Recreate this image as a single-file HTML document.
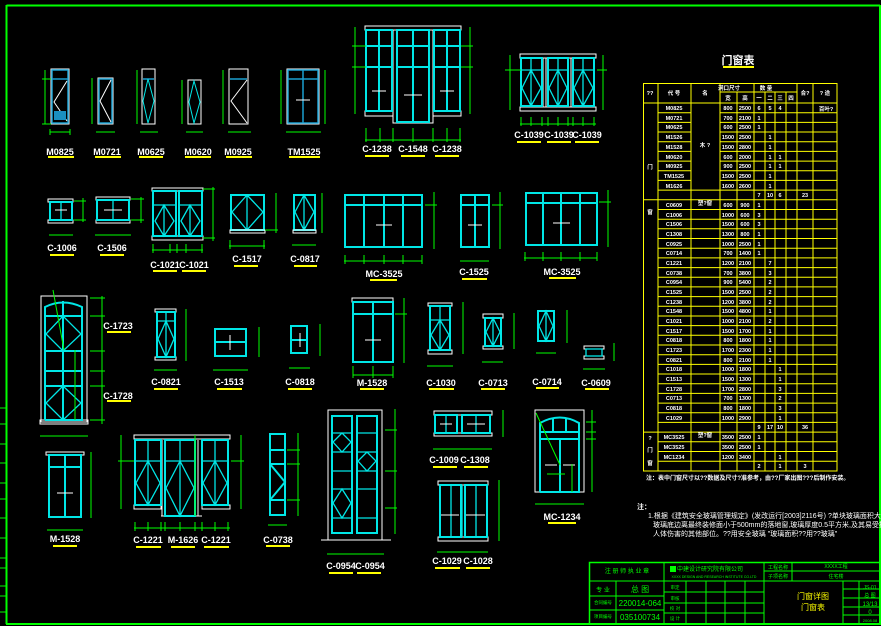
<!DOCTYPE html>
<html><head><meta charset="utf-8"><style>
html,body{margin:0;padding:0;background:#000;}
svg{display:block;font-family:"Liberation Sans","Noto Sans CJK SC",sans-serif;}
.c{fill:none;stroke:#00e6e6;stroke-width:2}
.c1{fill:none;stroke:#00e6e6;stroke-width:1.3}
.w{fill:none;stroke:#fff;stroke-width:1}
.g{fill:none;stroke:#00ff00;stroke-width:1}
.y{stroke:#ffff00;stroke-width:2}
.lb{fill:#fff;font-size:9px;font-weight:bold;text-anchor:middle}
.t{fill:#fff;font-size:5.5px;font-weight:bold;text-anchor:middle}
.tb{fill:#00ff00;font-size:6px;text-anchor:middle}
.yl{fill:none;stroke:#ffff00;stroke-width:1}
</style></head><body>
<svg width="881" height="626" viewBox="0 0 881 626" xmlns="http://www.w3.org/2000/svg">
<rect width="881" height="626" fill="#000"/>
<!-- border -->
<path d="M6.5 5.5H880M6.5 5V624M6 624H881M880 5V624" stroke="#00ff00" stroke-width="2" fill="none"/>
<path class="g" d="M0 408H6M0 424H6M0 444H6M0 463H6M0 483H6M0 499H6M0 518H6M0 538H6M0 558H6M0 568H6M0 586H6M0 596H6M0 612H6"/>

<!-- ROW 1 doors -->
<g>
<rect x="51" y="69" width="18" height="55" class="w"/><rect x="52" y="70" width="16" height="53" fill="none" stroke="#1a9fd0" stroke-width="1.5"/><path d="M52 79H68" stroke="#1a9fd0" stroke-width="1.5"/><path d="M67 81L54 102L67 121" class="w"/><rect x="54" y="111" width="12" height="9" fill="#1a8fbf"/>
<path class="g" d="M45 70V124M42 79H51M42 124H51M50 132H70M50 129V135M70 129V135"/>
<text class="lb" x="60" y="155">M0825</text><path class="y" d="M48 157H74"/>

<rect x="98" y="78" width="15" height="46" class="w"/><rect x="99" y="79" width="13" height="44" fill="none" stroke="#1a9fd0" stroke-width="1.5"/><path d="M111 80L100 101L111 122" class="w"/>
<path class="g" d="M92 78V124M96 132H115"/>
<text class="lb" x="107" y="155">M0721</text><path class="y" d="M95 157H121"/>

<rect x="142" y="69" width="13" height="55" class="w"/><path d="M143 79H154" stroke="#1a9fd0" stroke-width="1.5"/><path d="M148 79L143 101L148 123L154 101Z" stroke="#00e6e6" fill="none"/>
<path class="g" d="M137 70V124M140 132H158"/>
<text class="lb" x="151" y="155">M0625</text><path class="y" d="M139 157H163"/>

<rect x="188" y="80" width="13" height="44" class="w"/><path d="M194 81L189 102L194 123L200 102Z" stroke="#00e6e6" fill="none"/>
<path class="g" d="M182 80V124M186 132H203"/>
<text class="lb" x="198" y="155">M0620</text><path class="y" d="M185 157H211"/>

<rect x="229" y="69" width="19" height="55" class="w"/><path d="M230 79H247" stroke="#1a9fd0" stroke-width="1.5"/><path d="M247 80L231 101L247 123" class="w"/>
<path class="g" d="M223 70V124M228 132H251"/>
<text class="lb" x="238" y="155">M0925</text><path class="y" d="M226 157H252"/>

<rect x="287" y="69" width="32" height="55" class="w"/><rect x="288" y="70" width="30" height="53" fill="none" stroke="#1a9fd0" stroke-width="1.5"/><path d="M288 79H318M303 70V123" stroke="#1a9fd0" stroke-width="1.5"/><path d="M296 100H310" class="w"/>
<path class="g" d="M281 70V124M325 70V124M286 132H321"/>
<text class="lb" x="304" y="155">TM1525</text><path class="y" d="M289 157H320"/>
</g>

<!-- C-1238 group -->
<g>
<rect x="365" y="26" width="96" height="4" class="w"/><rect x="393" y="30" width="40" height="93" class="w"/><rect x="365" y="111" width="28" height="5" class="w"/><rect x="433" y="111" width="28" height="5" class="w"/>
<rect x="366" y="30" width="26" height="81" class="c"/><path class="c" d="M379 30V111M366 46H392M366 67H392"/>
<rect x="397" y="30" width="32" height="92" class="c"/><path class="c" d="M413 30V122M397 46H429M397 67H429"/>
<rect x="434" y="30" width="26" height="81" class="c"/><path class="c" d="M447 30V111M434 46H460M434 67H460"/>
<path class="w" d="M372 91H386M404 95H422M440 91H454"/>
<path class="g" d="M355 27V114M352 46H366M352 67H366M470 27V114M461 46H473M461 67H473M365 140H461M366 128V142M380 128V142M393 128V142M413 128V142M433 128V142M447 128V142M460 128V142"/>
<text class="lb" x="377" y="152">C-1238</text><text class="lb" x="413" y="152">C-1548</text><text class="lb" x="447" y="152">C-1238</text>
<path class="y" d="M365 156H389M401 156H425M435 156H459"/>
</g>

<!-- C-1039 -->
<g>
<rect x="520" y="54" width="76" height="4" class="w"/><rect x="520" y="107" width="76" height="4" class="w"/>
<path class="w" d="M543 58V107M546 58V107M568 58V107M571 58V107"/>
<rect x="521" y="58" width="21" height="48" class="c"/><rect x="548" y="58" width="20" height="48" class="c"/><rect x="573" y="58" width="21" height="48" class="c"/>
<path class="c1" d="M521 70H542M548 70H568M573 70H594M531 58V106M558 58V106M583 58V106M531 70L522 88L531 106L541 88ZM558 70L549 88L558 106L567 88ZM583 70L574 88L583 106L593 88Z"/>
<path class="g" d="M510 55V110M505 70H521M603 55V110M597 70H607M520 124H596M521 117V126M531 117V126M542 117V126M548 117V126M558 117V126M568 117V126M573 117V126M583 117V126M594 117V126"/>
<text class="lb" x="529" y="138">C-1039</text><text class="lb" x="559" y="138">C-1039</text><text class="lb" x="587" y="138">C-1039</text>
<path class="y" d="M517 142H541M547 142H571M575 142H599"/>
</g>

<!-- ROW 2 -->
<g>
<rect x="48" y="199" width="25" height="3" class="w"/><rect x="48" y="220" width="25" height="3" class="w"/><rect x="50" y="202" width="22" height="18" class="c"/><path class="c1" d="M61 202V220"/><path class="w" d="M55 210H67"/>
<path class="g" d="M83 198V222M74 201H86M74 220H86M49 235H73"/>
<text class="lb" x="62" y="251">C-1006</text><path class="y" d="M50 255H74"/>

<rect x="96" y="197" width="34" height="3" class="w"/><rect x="96" y="220" width="34" height="3" class="w"/><rect x="97" y="200" width="32" height="20" class="c"/><path class="c1" d="M113 200V220"/><path class="w" d="M104 210H122"/>
<path class="g" d="M141 197V223M131 199H144M131 220H144M95 235H131"/>
<text class="lb" x="112" y="251">C-1506</text><path class="y" d="M100 255H124"/>

<rect x="152" y="188" width="51" height="3" class="w"/><rect x="152" y="236" width="51" height="4" class="w"/>
<rect x="153" y="191" width="23" height="45" class="c"/><rect x="179" y="191" width="23" height="45" class="c"/>
<path class="c1" d="M153 205H176M179 205H202M164 205V236M190 205V236M164 205L155 221L164 236L174 221ZM190 205L181 221L190 236L200 221Z"/>
<path class="g" d="M213 187V241M203 189H215M203 238H215M152 250H203M153 244V253M170 244V253M177 244V253M186 244V253M202 244V253"/>
<text class="lb" x="165" y="268">C-1021</text><text class="lb" x="194" y="268">C-1021</text>
<path class="y" d="M153 271H177M182 271H206"/>

<rect x="231" y="195" width="33" height="35" class="c"/><path class="c1" d="M247 195V230M247 195L232 212L247 230L263 212Z"/><rect x="230" y="230" width="35" height="3" class="w"/>
<path class="g" d="M276 193V233M265 230H278M229 246H265M230 240V249M264 240V249"/>
<text class="lb" x="247" y="262">C-1517</text><path class="y" d="M234 266H258"/>

<rect x="294" y="195" width="21" height="35" class="c"/><path class="c1" d="M304 195V230M304 195L295 212L304 230L314 212Z"/><rect x="293" y="230" width="23" height="3" class="w"/>
<path class="g" d="M322 193V233M292 245H316"/>
<text class="lb" x="305" y="262">C-0817</text><path class="y" d="M294 266H317"/>

<rect x="345" y="195" width="77" height="52" class="c"/><path class="c" d="M345 205H422M364 195V247M384 195V247M403 195V247"/><path class="w" d="M376 225H392"/>
<path class="g" d="M434 192V249M425 205H437M344 261H422M345 255V264M364 255V264M384 255V264M403 255V264M422 255V264"/>
<text class="lb" x="384" y="277">MC-3525</text><path class="y" d="M370 280H397"/>

<rect x="461" y="195" width="28" height="52" class="c"/><path class="c" d="M461 205H489M475 195V247"/><path class="w" d="M468 225H482"/>
<path class="g" d="M500 192V249M492 205H503M460 261H489"/>
<text class="lb" x="474" y="275">C-1525</text><path class="y" d="M462 279H487"/>

<rect x="526" y="193" width="71" height="52" class="c"/><path class="c" d="M526 203H597M543 193V245M561 193V245M580 193V245"/><path class="w" d="M553 223H570"/>
<path class="g" d="M608 190V247M599 202H611M524 258H597M525 252V261M543 252V261M561 252V261M580 252V261M597 252V261"/>
<text class="lb" x="562" y="275">MC-3525</text><path class="y" d="M549 278H576"/>
</g>

<!-- ROW 3 -->
<g>
<rect x="41" y="296" width="46" height="126" class="w"/><rect x="40" y="420" width="48" height="4" class="w"/>
<path class="c" d="M45 420V307Q63 298 82 307V420H45M45 316H82M45 351H82M45 371H82M45 386H82M63 301V420"/>
<path class="c1" d="M63 316L46 334L63 351L81 334ZM63 386L46 403L63 420L81 403Z"/>
<path class="g" d="M102 296V424M90 298H105M90 316H105M90 351H105M90 371H105M90 386H105M90 420H105M40 436H88M53 290L64 350M75 350V420"/>
<text class="lb" x="118" y="329">C-1723</text><path class="y" d="M107 332H131"/>
<text class="lb" x="118" y="399">C-1728</text><path class="y" d="M107 401H131"/>

<rect x="155" y="309" width="21" height="3" class="w"/><rect x="155" y="357" width="21" height="3" class="w"/><rect x="157" y="312" width="18" height="45" class="c"/><path class="c1" d="M166 312V357M157 321H175M166 321L158 339L166 357L174 339Z"/>
<path class="g" d="M186 309V361M154 370H177"/>
<text class="lb" x="166" y="385">C-0821</text><path class="y" d="M154 389H178"/>

<rect x="215" y="329" width="31" height="27" class="c"/><path class="c" d="M215 342H246"/><path class="w" d="M230 335V350"/>
<path class="g" d="M259 327V357M213 370H248"/>
<text class="lb" x="229" y="385">C-1513</text><path class="y" d="M217 389H242"/>

<rect x="291" y="326" width="16" height="27" class="c"/><path class="c" d="M291 340H307"/><path class="w" d="M300 333V347"/>
<path class="g" d="M320 324V356M289 368H310"/>
<text class="lb" x="300" y="385">C-0818</text><path class="y" d="M288 389H312"/>

<rect x="46" y="452" width="38" height="3" class="w"/><rect x="49" y="455" width="32" height="62" class="c"/><path class="c" d="M49 467H81M65 455V517"/><path class="w" d="M57 493H73"/>
<path class="g" d="M91 452V518M47 530H83"/>
<text class="lb" x="65" y="542">M-1528</text><path class="y" d="M53 546H77"/>

<rect x="134" y="435" width="96" height="4" class="w"/><rect x="134" y="505" width="27" height="4" class="w"/><rect x="202" y="505" width="28" height="4" class="w"/><path class="w" d="M162 440V516M198 440V516M161 516H202"/>
<rect x="135" y="440" width="26" height="65" class="c"/><rect x="165" y="440" width="30" height="76" class="c"/><rect x="202" y="440" width="26" height="65" class="c"/>
<path class="c1" d="M135 461H161M165 461H195M202 461H228M148 440V505M180 440V516M215 440V505M148 461L136 483L148 505L160 483ZM180 461L166 488L180 516L194 488ZM215 461L203 483L215 505L227 483Z"/>
<path class="g" d="M121 435V509M118 461H134M241 435V509M231 461H244M134 528H230M135 522V531M148 522V531M161 522V531M165 522V531M180 522V531M195 522V531M202 522V531M215 522V531M228 522V531M195 435V516"/>
<text class="lb" x="148" y="543">C-1221</text><text class="lb" x="183" y="543">M-1626</text><text class="lb" x="216" y="543">C-1221</text>
<path class="y" d="M136 547H161M171 547H195M204 547H229"/>

<rect x="270" y="434" width="15" height="81" class="c"/><path class="c" d="M270 450H285M270 464H285M270 500H285M270 464L285 482L270 500"/>
<path class="g" d="M298 433V516M287 450H300M287 464H300M287 500H300M268 525H287"/>
<text class="lb" x="278" y="543">C-0738</text><path class="y" d="M266 546H290"/>
</g>

<!-- zoom6 area -->
<g>
<rect x="352" y="298" width="41" height="4" class="w"/><rect x="353" y="302" width="40" height="60" class="c"/><path class="c" d="M353 314H393M373 302V362"/><path class="w" d="M365 340H381"/>
<path class="g" d="M404 298V363M395 314H407M353 375H393M353 366V378M373 366V378M393 366V378"/>
<text class="lb" x="372" y="386">M-1528</text><path class="y" d="M360 389H384"/>

<rect x="428" y="303" width="24" height="3" class="w"/><rect x="428" y="350" width="24" height="4" class="w"/><rect x="430" y="306" width="20" height="44" class="c"/><path class="c1" d="M440 306V350M430 320H450M440 320L431 335L440 350L449 335Z"/>
<path class="g" d="M463 302V354M427 366H453"/>
<text class="lb" x="441" y="386">C-1030</text><path class="y" d="M429 389H454"/>

<rect x="483" y="314" width="20" height="4" class="w"/><rect x="483" y="346" width="20" height="3" class="w"/><rect x="485" y="318" width="16" height="28" class="c"/><path class="c1" d="M493 318V346M493 318L486 332L493 346L500 332Z"/>
<path class="g" d="M514 313V349M482 362H503"/>
<text class="lb" x="493" y="386">C-0713</text><path class="y" d="M481 389H505"/>

<rect x="538" y="311" width="16" height="30" class="c"/><path class="c1" d="M546 311V341M546 311L539 326L546 341L553 326Z"/>
<path class="g" d="M567 310V343M536 353H556"/>
<text class="lb" x="547" y="385">C-0714</text><path class="y" d="M536 388H559"/>

<rect x="584" y="346" width="20" height="3" class="w"/><rect x="584" y="356" width="20" height="3" class="w"/><rect x="586" y="349" width="16" height="7" class="c1"/>
<path class="g" d="M614 343V361M583 369H605"/>
<text class="lb" x="596" y="386">C-0609</text><path class="y" d="M585 389H609"/>

<rect x="328" y="410" width="54" height="130" class="w"/><path class="w" d="M321 540H391"/>
<rect x="332" y="416" width="20" height="117" class="c"/><rect x="357" y="416" width="20" height="117" class="c"/>
<path class="c1" d="M332 433H352M332 452H352M332 471H352M332 489H352M332 518H352M357 433H377M357 452H377M357 471H377M357 489H377M357 518H377M342 433L333 442L342 452L351 442ZM367 452L358 461L367 471L376 461ZM342 489L333 503L342 518L351 503Z"/>
<path class="g" d="M395 409V534M385 430H397M385 471H397M385 508H397M327 554H384"/>
<text class="lb" x="341" y="569">C-0954</text><text class="lb" x="370" y="569">C-0954</text>
<path class="y" d="M329 573H353M357 573H381"/>

<rect x="434" y="411" width="58" height="4" class="w"/><rect x="434" y="433" width="58" height="3" class="w"/><rect x="435" y="415" width="22" height="18" class="c"/><rect x="462" y="415" width="28" height="18" class="c"/><path class="c1" d="M446 415V433M476 415V433"/><path class="w" d="M440 424H452M467 424H485"/>
<path class="g" d="M503 410V437M433 449H492"/>
<text class="lb" x="444" y="463">C-1009</text><text class="lb" x="475" y="463">C-1308</text>
<path class="y" d="M433 467H457M464 467H488"/>

<rect x="438" y="481" width="50" height="4" class="w"/><rect x="438" y="537" width="50" height="4" class="w"/><rect x="440" y="485" width="21" height="52" class="c"/><rect x="465" y="485" width="22" height="52" class="c"/><path class="c1" d="M451 485V537M476 485V537M462 485V537"/><path class="w" d="M441 515H459M466 515H485"/>
<path class="g" d="M499 480V541M437 552H488"/>
<text class="lb" x="447" y="564">C-1029</text><text class="lb" x="478" y="564">C-1028</text>
<path class="y" d="M435 568H460M466 568H490"/>

<rect x="535" y="410" width="49" height="82" class="w"/>
<path class="c" d="M540 492V423Q560 412 579 423V492H540M540 432H579M540 439H579M553 418V432M566 418V432M560 439V492"/>
<path class="w" d="M545 465H557M563 465H575"/>
<path class="g" d="M592 410V492M586 422H596M586 432H596M586 439H596M535 504H584M536 413L560 465M547 474H565M572 464V492"/>
<text class="lb" x="562" y="520">MC-1234</text><path class="y" d="M548 523H576"/>
</g>

<!-- TABLE -->
<text x="738" y="64" fill="#fff" font-size="11" font-weight="bold" text-anchor="middle">门窗表</text>
<path class="y" d="M723 67H754"/>
<g stroke="#ffff00" stroke-width="1" fill="none">
<rect x="643.5" y="83.5" width="193.5" height="387.5"/>
<path d="M720 92H797M720 92V103M737 92V103M754 92V103M765 92V103M775 92V103M786 92V103M643 103H837"/>
<path d="M658 83V471M691 83V471M720 83V471M737 92V471M754 83V471M765 92V471M775 92V471M786 92V471M797 83V471M813 83V471"/>
<path d="M658 112.7H691M720 112.7H837M658 122.4H691M720 122.4H837M658 132H691M720 132H837M658 141.7H691M720 141.7H837M658 151.4H691M720 151.4H837M658 161.1H691M720 161.1H837M658 170.8H691M720 170.8H837M658 180.4H691M720 180.4H837M658 190.1H837"/>
<path d="M643 199.8H837M643 432.1H837"/>
<path d="M658 209.5H837M658 219.2H837M658 228.8H837M658 238.5H837M658 248.2H837M658 257.9H837M658 267.6H837M658 277.2H837M658 286.9H837M658 296.6H837M658 306.3H837M658 316H837M658 325.6H837M658 335.3H837M658 345H837M658 354.7H837M658 364.4H837M658 374H837M658 383.7H837M658 393.4H837M658 403.1H837M658 412.8H837M658 422.4H837M658 441.8H837M658 451.5H837M658 461.2H837"/>
</g>
<g class="t">
<text x="650" y="95">??</text><text x="674" y="95">代 号</text><text x="705" y="95">名</text><text x="729" y="90">洞口尺寸</text><text x="766" y="90">数 量</text><text x="805" y="95">合?</text><text x="825" y="95">? 途</text>
<text x="728" y="100">宽</text><text x="745" y="100">高</text><text x="759" y="100">一</text><text x="770" y="100">二</text><text x="780" y="100">三</text><text x="791" y="100">四</text>
<text x="826" y="111">百叶?</text>
<text x="650" y="169">门</text><text x="650" y="214">窗</text><text x="650" y="440">?</text><text x="650" y="452">门</text><text x="650" y="465">窗</text>
<text x="705" y="147">木 ?</text><text x="705" y="205">塑?窗</text><text x="705" y="437">塑?窗</text>
</g>
<g class="t">
<text x="674" y="110">M0825</text><text x="674" y="120">M0721</text><text x="674" y="129">M0625</text><text x="674" y="139">M1526</text><text x="674" y="149">M1528</text><text x="674" y="159">M0620</text><text x="674" y="168">M0925</text><text x="674" y="178">TM1525</text><text x="674" y="188">M1626</text>
<text x="728" y="110">800</text><text x="745" y="110">2500</text><text x="728" y="120">700</text><text x="745" y="120">2100</text><text x="728" y="129">600</text><text x="745" y="129">2500</text><text x="728" y="139">1500</text><text x="745" y="139">2500</text><text x="728" y="149">1500</text><text x="745" y="149">2800</text><text x="728" y="159">600</text><text x="745" y="159">2000</text><text x="728" y="168">900</text><text x="745" y="168">2500</text><text x="728" y="178">1500</text><text x="745" y="178">2500</text><text x="728" y="188">1600</text><text x="745" y="188">2600</text>
<text x="759" y="110">6</text><text x="770" y="110">5</text><text x="780" y="110">4</text><text x="759" y="120">1</text><text x="759" y="129">1</text><text x="770" y="139">1</text><text x="770" y="149">1</text><text x="770" y="159">1</text><text x="780" y="159">1</text><text x="770" y="168">1</text><text x="780" y="168">1</text><text x="770" y="178">1</text><text x="770" y="188">1</text>
<text x="759" y="197">7</text><text x="770" y="197">10</text><text x="780" y="197">6</text><text x="805" y="197">23</text>
</g>
<g class="t">
<text x="674" y="207">C0609</text><text x="674" y="217">C1006</text><text x="674" y="226">C1506</text><text x="674" y="236">C1308</text><text x="674" y="246">C0925</text><text x="674" y="255">C0714</text><text x="674" y="265">C1221</text><text x="674" y="275">C0738</text><text x="674" y="284">C0954</text><text x="674" y="294">C1525</text><text x="674" y="304">C1238</text><text x="674" y="313">C1548</text><text x="674" y="323">C1021</text><text x="674" y="333">C1517</text><text x="674" y="342">C0818</text><text x="674" y="352">C1723</text><text x="674" y="362">C0821</text><text x="674" y="371">C1018</text><text x="674" y="381">C1513</text><text x="674" y="391">C1728</text><text x="674" y="400">C0713</text><text x="674" y="410">C0818</text><text x="674" y="420">C1029</text>
<text x="728" y="207">600</text><text x="745" y="207">900</text><text x="728" y="217">1000</text><text x="745" y="217">600</text><text x="728" y="226">1500</text><text x="745" y="226">600</text><text x="728" y="236">1300</text><text x="745" y="236">800</text><text x="728" y="246">1000</text><text x="745" y="246">2500</text><text x="728" y="255">700</text><text x="745" y="255">1400</text><text x="728" y="265">1200</text><text x="745" y="265">2100</text><text x="728" y="275">700</text><text x="745" y="275">3800</text><text x="728" y="284">900</text><text x="745" y="284">5400</text><text x="728" y="294">1500</text><text x="745" y="294">2500</text><text x="728" y="304">1200</text><text x="745" y="304">3800</text><text x="728" y="313">1500</text><text x="745" y="313">4800</text><text x="728" y="323">1000</text><text x="745" y="323">2100</text><text x="728" y="333">1500</text><text x="745" y="333">1700</text><text x="728" y="342">800</text><text x="745" y="342">1800</text><text x="728" y="352">1700</text><text x="745" y="352">2300</text><text x="728" y="362">800</text><text x="745" y="362">2100</text><text x="728" y="371">1000</text><text x="745" y="371">1800</text><text x="728" y="381">1500</text><text x="745" y="381">1300</text><text x="728" y="391">1700</text><text x="745" y="391">2800</text><text x="728" y="400">700</text><text x="745" y="400">1300</text><text x="728" y="410">800</text><text x="745" y="410">1800</text><text x="728" y="420">1000</text><text x="745" y="420">2900</text>
<text x="759" y="207">1</text><text x="759" y="217">3</text><text x="759" y="226">3</text><text x="759" y="236">1</text><text x="759" y="246">1</text><text x="759" y="255">1</text><text x="770" y="265">7</text><text x="770" y="275">3</text><text x="770" y="284">2</text><text x="770" y="294">2</text><text x="770" y="304">2</text><text x="770" y="313">1</text><text x="770" y="323">2</text><text x="770" y="333">1</text><text x="770" y="342">1</text><text x="770" y="352">1</text><text x="770" y="362">1</text><text x="780" y="371">1</text><text x="780" y="381">1</text><text x="780" y="391">3</text><text x="780" y="400">2</text><text x="780" y="410">3</text><text x="780" y="420">1</text>
<text x="759" y="429">9</text><text x="770" y="429">17</text><text x="780" y="429">10</text><text x="805" y="429">36</text>
<text x="674" y="439">MC3525</text><text x="674" y="449">MC3525</text><text x="674" y="459">MC1234</text>
<text x="728" y="439">3500</text><text x="745" y="439">2500</text><text x="728" y="449">3500</text><text x="745" y="449">2500</text><text x="728" y="459">1200</text><text x="745" y="459">3400</text>
<text x="759" y="439">1</text><text x="759" y="449">1</text><text x="780" y="459">1</text><text x="759" y="468">2</text><text x="780" y="468">1</text><text x="805" y="468">3</text>
</g>
<text x="646" y="480" fill="#fff" font-size="6" font-weight="bold">注：表中门窗尺寸以??数据及尺寸?准参考，由??厂家出图???后制作安装。</text>

<!-- notes -->
<g fill="#fff" font-size="7">
<text x="637" y="509" font-weight="bold">注：</text>
<text x="648" y="518">1.根据《建筑安全玻璃管理规定》(发改运行[2003]2116号) ?单块玻璃面积大于1.5平方米</text>
<text x="653" y="527">玻璃底边离最终装修面小于500mm的落地窗,玻璃厚度0.5平方米,及其易受撞击、冲击而造成</text>
<text x="653" y="536">人体伤害的其他部位。??用安全玻璃 "玻璃面积??用??玻璃"</text>
</g>

<!-- title block -->
<g stroke="#00ff00" stroke-width="1" fill="none">
<rect x="589.5" y="562.5" width="291" height="61.5" stroke-width="1.5"/>
<path d="M664 562V624M764 562V624M590 581H664M590 596H664M590 610H664M616 581V624M664 581H764M664 592H764M664 603H764M664 613H764M686 581V624M706 581V624M725 581V624M745 581V624M764 571H881M764 581H881M792 562V581M843 581V624M859 581V624M843 589H881M843 598H881M843 607H881M843 615H881"/>
</g>
<rect x="670" y="566" width="6" height="6" fill="#00ff00"/>
<g class="tb">
<text x="627" y="573">注 册 师 执 业 章</text><text x="603" y="592">专 业</text><text x="640" y="592" font-size="8">总 图</text>
<text x="603" y="604" font-size="4.5">合同编号</text><text x="640" y="606" font-size="8">220014-064</text><text x="603" y="618" font-size="4.5">项目编号</text><text x="640" y="620" font-size="8">035100734</text>
<text x="710" y="571">中建设计研究院有限公司</text><text x="714" y="578" font-size="3.5">XXXX DESIGN AND RESEARCH INSTITUTE CO.LTD</text>
<text x="778" y="569" font-size="5">工程名称</text><text x="778" y="578" font-size="5">子项名称</text><text x="836" y="568" font-size="5">XXXX工程</text><text x="836" y="578" font-size="5">住宅楼</text>
<text x="813" y="599" fill="#ffff00" font-size="8">门窗详图</text><text x="813" y="610" fill="#ffff00" font-size="8">门窗表</text>
<text x="870" y="589" font-size="5">JS-01</text><text x="870" y="597" font-size="5">总 图</text><text x="870" y="606" font-size="6">13/13</text><text x="870" y="614" font-size="6">0</text><text x="870" y="622" font-size="4">2008.08</text>
<text x="675" y="589" font-size="4.5">审定</text><text x="675" y="600" font-size="4.5">审核</text><text x="675" y="610" font-size="4.5">校 对</text><text x="675" y="620" font-size="4.5">设 计</text>
</g>
</svg>
</body></html>
